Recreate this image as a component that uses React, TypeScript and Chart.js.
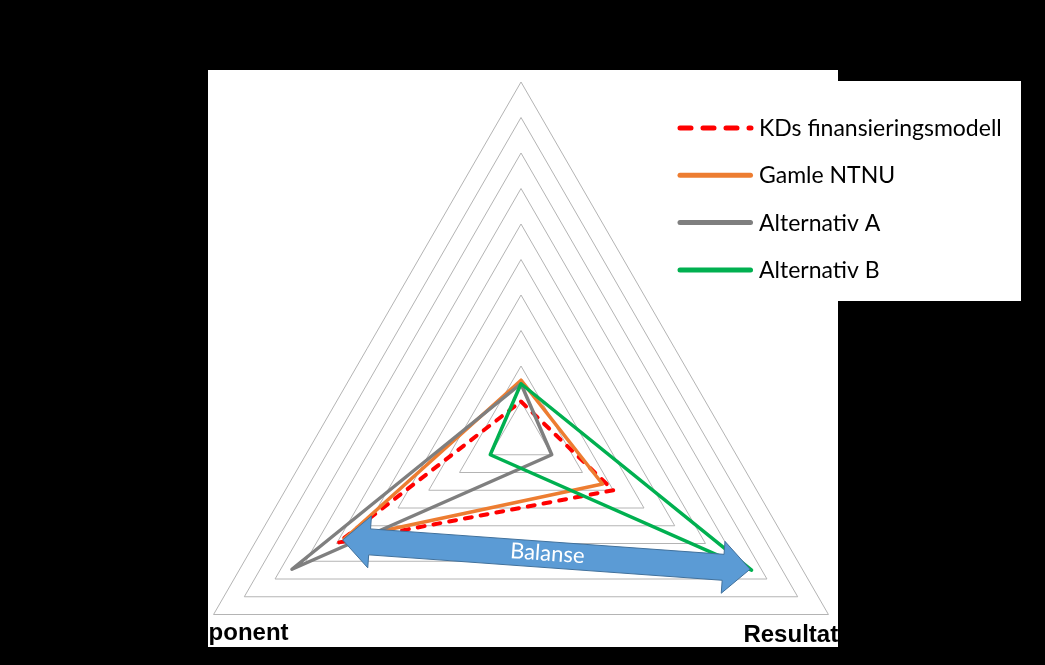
import React, { useEffect, useRef } from 'react';
import { Chart, registerables } from 'chart.js';

Chart.register(...registerables);

// ---- data ----
const axisLabels = ['Strategisk komponent', 'Resultatkomponent', 'Basiskomponent'];
const seriesNames = ['KDs finansieringsmodell', 'Gamle NTNU', 'Alternativ A', 'Alternativ B'];
const kdsValues = [1.0, 3.0, 5.95];
const gamleValues = [1.6, 2.65, 5.75];
const altAValues = [1.5, 1.0, 7.45];
const altBValues = [1.5, 7.5, 1.0];
const scaleMin = 0;
const scaleMax = 10;
const scaleStep = 1;
// annotation arrow, in chart value coordinates (axis index, value)
const arrowLabel = 'Balanse';
const arrowFrom = { axis: 2, value: 5.8 };
const arrowTo = { axis: 1, value: 7.45 };

// ---- styles ----
const seriesColors = ['#FF0000', '#ED7D31', '#7F7F7F', '#00B050'];
const seriesWidths = [4, 3.5, 3.5, 3.5];
const seriesDashes: number[][] = [[7, 9], [], [], []];

const W = 1045;
const H = 665;
const CANVAS_H = 900;

export default function App() {
  const ref = useRef<HTMLCanvasElement | null>(null);

  useEffect(() => {
    const canvas = ref.current;
    if (!canvas) return;

    const backgroundPlugin = {
      id: 'bgPanels',
      beforeDraw(chart: any) {
        const ctx = chart.ctx;
        ctx.save();
        ctx.fillStyle = '#000';
        ctx.fillRect(0, 0, chart.width, chart.height);
        ctx.fillStyle = '#fff';
        ctx.fillRect(208, 70, 630, 577);
        ctx.fillRect(838, 81, 183, 220);
        ctx.restore();
      },
    };

    const arrowPlugin = {
      id: 'balanceArrow',
      afterDatasetsDraw(chart: any) {
        const ctx = chart.ctx;
        const scale = chart.scales.r;
        const a = scale.getPointPosition(arrowFrom.axis, scale.getDistanceFromCenterForValue(arrowFrom.value));
        const b = scale.getPointPosition(arrowTo.axis, scale.getDistanceFromCenterForValue(arrowTo.value));
        const dx = b.x - a.x;
        const dy = b.y - a.y;
        const len = Math.hypot(dx, dy);
        const ux = dx / len, uy = dy / len;
        const nx = -uy, ny = ux;
        const hl = 27, hh = 26, sh = 13;
        const pt = (base: any, along: number, side: number) => [base.x + ux * along + nx * side, base.y + uy * along + ny * side];
        const pts = [
          [a.x, a.y],
          pt(a, hl, -hh),
          pt(a, hl, -sh),
          pt(b, -hl, -sh),
          pt(b, -hl, -hh),
          [b.x, b.y],
          pt(b, -hl, hh),
          pt(b, -hl, sh),
          pt(a, hl, sh),
          pt(a, hl, hh),
        ];
        ctx.save();
        ctx.beginPath();
        pts.forEach((p, i) => (i === 0 ? ctx.moveTo(p[0], p[1]) : ctx.lineTo(p[0], p[1])));
        ctx.closePath();
        ctx.fillStyle = '#5B9BD5';
        ctx.fill();
        ctx.strokeStyle = '#41719C';
        ctx.lineWidth = 1;
        ctx.stroke();
        // label
        const mx = (a.x + b.x) / 2;
        const my = (a.y + b.y) / 2;
        ctx.translate(mx + 1, my - 1);
        ctx.rotate(Math.atan2(dy, dx));
        ctx.fillStyle = '#fff';
        ctx.font = '22px Lato, "Open Sans", sans-serif';
        ctx.textAlign = 'center';
        ctx.textBaseline = 'middle';
        ctx.fillText(arrowLabel, 0, 0);
        ctx.restore();
      },
    };

    const labelsLegendPlugin = {
      id: 'labelsLegend',
      afterDraw(chart: any) {
        const ctx = chart.ctx;
        const scale = chart.scales.r;
        const outer = scale.getDistanceFromCenterForValue(scale.max);
        // axis labels (clipped to the white panel)
        ctx.save();
        ctx.beginPath();
        ctx.rect(208, 70, 630, 577);
        ctx.clip();
        ctx.fillStyle = '#000';
        ctx.font = 'bold 24px "Liberation Sans", Arial, sans-serif';
        ctx.textBaseline = 'alphabetic';
        const p0 = scale.getPointPosition(0, outer);
        ctx.textAlign = 'center';
        ctx.fillText(chart.data.labels[0], p0.x, p0.y - 20);
        const p1 = scale.getPointPosition(1, outer);
        ctx.textAlign = 'left';
        ctx.fillText(chart.data.labels[1], p1.x - 85, p1.y + 27);
        const p2 = scale.getPointPosition(2, outer);
        ctx.textAlign = 'right';
        ctx.fillText(chart.data.labels[2], p2.x + 75, p2.y + 25);
        ctx.restore();

        // legend
        ctx.save();
        chart.data.datasets.forEach((ds: any, i: number) => {
          const y = 128 + i * 47.3;
          ctx.beginPath();
          ctx.strokeStyle = ds.borderColor;
          ctx.lineWidth = 5;
          ctx.lineCap = 'round';
          ctx.setLineDash(i === 0 ? [11, 12] : []);
          ctx.moveTo(680, y);
          ctx.lineTo(i === 0 ? 751 : 750.5, y);
          ctx.stroke();
          ctx.setLineDash([]);
          ctx.fillStyle = '#000';
          ctx.font = '23px Lato, "Open Sans", sans-serif';
          ctx.textAlign = 'left';
          ctx.textBaseline = 'alphabetic';
          ctx.fillText(ds.label, 759, y + 8);
        });
        ctx.restore();
      },
    };

    const values = [kdsValues, gamleValues, altAValues, altBValues];
    const chart = new Chart(canvas, {
      type: 'radar',
      data: {
        labels: axisLabels,
        datasets: seriesNames.map((name, i) => ({
          label: name,
          data: values[i],
          borderColor: seriesColors[i],
          backgroundColor: 'transparent',
          borderWidth: seriesWidths[i],
          borderDash: seriesDashes[i],
          borderCapStyle: i === 0 ? 'round' : 'butt',
          borderJoinStyle: 'round',
          pointRadius: 0,
          pointHoverRadius: 0,
          fill: false,
          tension: 0,
          order: seriesNames.length - i,
        })),
      },
      options: {
        responsive: false,
        maintainAspectRatio: false,
        animation: false,
        devicePixelRatio: 1,
        events: [],
        layout: { padding: { left: 166, right: 169, top: 82, bottom: 108 } },
        plugins: {
          legend: { display: false },
          tooltip: { enabled: false },
          title: { display: false },
        },
        scales: {
          r: {
            min: scaleMin,
            max: scaleMax,
            ticks: { display: false, stepSize: scaleStep },
            grid: { color: '#B4B4B4', lineWidth: 1 },
            angleLines: { display: false },
            pointLabels: { display: false },
          },
        },
      } as any,
      plugins: [backgroundPlugin, arrowPlugin, labelsLegendPlugin],
    } as any);

    return () => chart.destroy();
  }, []);

  return (
    <div
      style={{
        position: 'fixed',
        left: 0,
        top: 0,
        width: W,
        height: H,
        overflow: 'hidden',
        background: '#000',
      }}
    >
      <canvas ref={ref} width={W} height={CANVAS_H} style={{ display: 'block' }} />
    </div>
  );
}
